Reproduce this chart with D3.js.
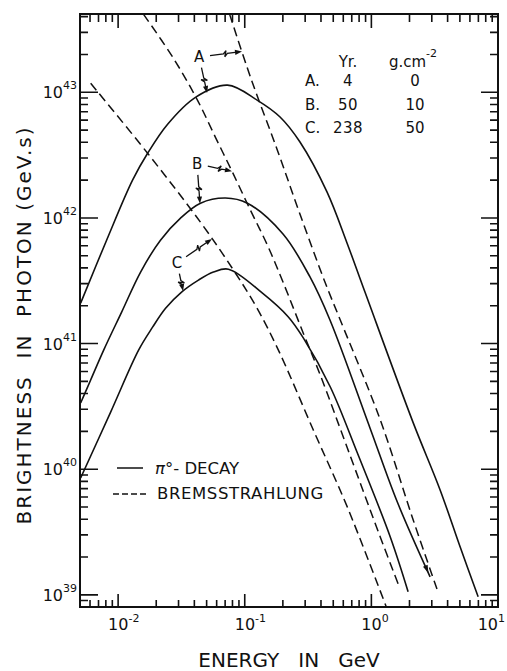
<!DOCTYPE html>
<html>
<head>
<meta charset="utf-8">
<script src="https://cdn.jsdelivr.net/npm/d3@7"></script>
<style>
  body { margin: 0; background: #fff; }
  svg { display: block; font-family: "DejaVu Sans", sans-serif; }
  text { fill: #111; white-space: pre; }
</style>
</head>
<body>
<svg id="chart"></svg>
<script>
// energy (GeV), brightness in photon (GeV.s)
// pi0-decay, solid curves
let piA = [[0.00506, 2.10e41], [0.00811, 6.65e41], [0.0130, 2.00e42], [0.0171, 3.27e42], [0.0246, 5.57e42],
  [0.0408, 9.12e42], [0.0731, 1.14e43], [0.126, 8.63e42], [0.190, 6.36e42], [0.273, 4.02e42], [0.446, 1.61e42],
  [0.642, 6.32e41], [0.890, 2.57e41], [2.13, 2.37e40], [3.49, 6.84e39], [5.02, 2.41e39], [6.97, 9.64e38]]
let piB = [[0.00506, 3.37e40], [0.00607, 5.13e40], [0.00769, 8.87e40], [0.01066, 1.78e41], [0.01505, 3.71e41],
  [0.0216, 6.65e41], [0.0311, 9.96e41], [0.0447, 1.31e42], [0.0704, 1.44e42], [0.105, 1.31e42],
  [0.2005, 7.45e41], [0.3275, 3.39e41], [0.471, 1.54e41], [0.975, 2.13e40], [1.60, 5.50e39], [2.91, 1.39e39]]
let piC = [[0.00506, 8.51e39], [0.00873, 2.85e40], [0.01451, 8.87e40], [0.01871, 1.35e41], [0.0237, 1.91e41],
  [0.0317, 2.57e41], [0.0431, 3.20e41], [0.0566, 3.71e41], [0.0744, 3.91e41], [0.138, 2.52e41],
  [0.221, 1.63e41], [0.290, 1.11e41], [0.474, 4.51e40], [0.774, 1.35e40], [1.41, 2.89e39], [1.95, 1.06e39]]

// bremsstrahlung, dashed curves
let bremA = [[0.0760, 4.17e43], [0.111, 1.32e43], [0.181, 3.46e42], [0.275, 1.05e42], [0.433, 3.03e41],
  [0.568, 1.54e41], [1.175, 2.47e40], [2.14, 3.94e39], [3.31, 1.10e39]]
let bremB = [[0.01589, 4.17e43], [0.0274, 1.86e43], [0.0424, 8.63e42], [0.0587, 4.38e42], [0.0800, 2.31e42],
  [0.111, 1.15e42], [0.151, 6.07e41], [0.202, 3.03e41], [0.290, 1.21e41], [0.395, 5.61e40],
  [0.645, 1.48e40], [1.175, 2.89e39], [1.66, 1.16e39]]
let bremC = [[0.00607, 1.18e43], [0.0171, 3.27e42], [0.0447, 9.25e41], [0.0814, 3.85e41], [0.1237, 1.95e41],
  [0.1844, 8.87e40], [0.348, 2.05e40], [0.645, 5.01e39], [1.31, 8.04e38]]

let xTickExp = [-2, -1, 0, 1]
let yTickExp = [39, 40, 41, 42, 43]

let tableHead = ['Yr.', 'g.cm']
let tableRows = [['A.', '4', '0'], ['B.', '50', '10'], ['C.', '238', '50']]

// curve labels: where the letter sits and which curve (at what energy) each arrow points to
let curveLabels = [
  {text: 'A', at: [0.0436, 1.91e43], arrows: [[bremA, 0.0951], [piA, 0.0504]]},
  {text: 'B', at: [0.0420, 2.69e42], arrows: [[bremB, 0.0793], [piB, 0.0443]]},
  {text: 'C', at: [0.0292, 4.38e41], arrows: [[bremC, 0.0551], [piC, 0.0326]]}
]

let width = 507
let height = 671
let plotLeft = 80, plotRight = 498, plotTop = 14, plotBottom = 607

let svg = d3.select('#chart').attr('width', width).attr('height', height)

let xScale = d3.scaleLog().domain([0.005, 10]).range([plotLeft, plotRight])
let yScale = d3.scaleLog().domain([8e38, 4.2e43]).range([plotBottom, plotTop])

let isPow10 = (v) => Math.abs(Math.log10(v) - Math.round(Math.log10(v))) < 1e-9
let xMajor = xTickExp.map(e => Math.pow(10, e))
let yMajor = yTickExp.map(e => Math.pow(10, e))
let xMinor = xScale.ticks(20).filter(v => !isPow10(v))
let yMinor = yScale.ticks(20).filter(v => !isPow10(v))

// ---- ticks on all four sides, pointing in; one path per side
let tickPath = (vals, len, horizontal, base, dir) => vals.map(v => {
  let p = horizontal ? xScale(v) : yScale(v)
  return horizontal
    ? `M${p},${base}V${base + dir * len}`
    : `M${base},${p}H${base + dir * len}`
}).join('')

let drawAxes = () => {
  let sides = [
    [true, plotBottom, -1, 13, 7],
    [true, plotTop, 1, 14, 8],
    [false, plotLeft, 1, 18, 8],
    [false, plotRight, -1, 17, 8]
  ]
  svg.append('g')
    .selectAll('path')
    .data(sides)
    .enter()
    .append('path')
    .attr('d', ([h, base, dir, bigLen, smallLen]) =>
      tickPath(h ? xMajor : yMajor, bigLen, h, base, dir) +
      tickPath(h ? xMinor : yMinor, smallLen, h, base, dir))
    .attr('fill', 'none')
    .attr('stroke', '#111')
    .attr('stroke-width', 1.6)

  svg.append('rect')
    .attr('x', plotLeft).attr('y', plotTop)
    .attr('width', plotRight - plotLeft).attr('height', plotBottom - plotTop)
    .attr('fill', 'none').attr('stroke', '#111').attr('stroke-width', 2)

  xTickExp.forEach(e => {
    let t = svg.append('text')
      .attr('x', xScale(Math.pow(10, e)) - 10)
      .attr('y', 630)
      .attr('font-size', 16)
    t.append('tspan').text('10')
    t.append('tspan').attr('dy', -8).attr('font-size', 11).text(e)
    let bb = t.node().getBBox()
    if (bb.x + bb.width > width - 2) t.attr('x', +t.attr('x') - (bb.x + bb.width - width + 2))
  })

  yTickExp.forEach(e => {
    let yy = yScale(Math.pow(10, e))
    svg.append('text').attr('x', 63).attr('y', yy + 6)
      .attr('text-anchor', 'end').attr('font-size', 16).text('10')
    svg.append('text').attr('x', 63).attr('y', yy - 3)
      .attr('font-size', 11).text(e)
  })

  svg.append('text')
    .attr('x', (plotLeft + plotRight) / 2).attr('y', 667)
    .attr('text-anchor', 'middle')
    .attr('font-size', 20)
    .text('ENERGY   IN   GeV')

  svg.append('text')
    .attr('transform', 'translate(31,325) rotate(-90)')
    .attr('text-anchor', 'middle')
    .attr('font-size', 20)
    .attr('letter-spacing', 2)
    .text('BRIGHTNESS  IN  PHOTON (GeV.s)')
}

// ---- curves
let lineGen = d3.line()
  .x(d => xScale(d[0]))
  .y(d => yScale(d[1]))
  .curve(d3.curveCatmullRom.alpha(0.5))

let drawCurves = () => {
  svg.append('clipPath').attr('id', 'plot-clip')
    .append('rect')
    .attr('x', plotLeft).attr('y', plotTop)
    .attr('width', plotRight - plotLeft).attr('height', plotBottom - plotTop)

  let g = svg.append('g').attr('clip-path', 'url(#plot-clip)')

  g.selectAll('.pi')
    .data([piA, piB, piC])
    .enter()
    .append('path')
    .attr('class', 'pi')
    .attr('d', lineGen)
    .attr('fill', 'none')
    .attr('stroke', '#111')
    .attr('stroke-width', 1.6)

  g.selectAll('.brem')
    .data([bremA, bremB, bremC])
    .enter()
    .append('path')
    .attr('class', 'brem')
    .attr('d', lineGen)
    .attr('fill', 'none')
    .attr('stroke', '#111')
    .attr('stroke-width', 1.5)
    .attr('stroke-dasharray', '9,5')
}

// point on a curve at a given energy (linear in log-log between read points)
let pointOn = (series, energy) => {
  let lx = Math.log10(energy)
  for (let i = 1; i < series.length; i++) {
    let a = Math.log10(series[i - 1][0]), b = Math.log10(series[i][0])
    if (lx >= a && lx <= b) {
      let t = (lx - a) / (b - a)
      let v = Math.log10(series[i - 1][1]) * (1 - t) + Math.log10(series[i][1]) * t
      return [xScale(energy), yScale(Math.pow(10, v))]
    }
  }
  return [xScale(energy), yScale(series[0][1])]
}

let arrowHead = (p) => {
  svg.append('path')
    .attr('d', d3.line()(p) + 'Z')
    .attr('fill', '#111')
}

// lettering-style arrow: shaft with a little zig-zag, filled head
let drawArrow = (x0, y0, x1, y1) => {
  let dx = x1 - x0, dy = y1 - y0
  let len = Math.hypot(dx, dy)
  let ux = dx / len, uy = dy / len
  let nx = -uy, ny = ux
  let p = (t, s) => [x0 + ux * t + nx * s, y0 + uy * t + ny * s]
  let m = len * 0.45
  let pts = [p(0, 0), p(m - 1, 0), p(m + 2, -3), p(m, 3), p(m + 3, 0), p(len - 5, 0)]
  svg.append('path')
    .attr('d', d3.line()(pts))
    .attr('fill', 'none').attr('stroke', '#111').attr('stroke-width', 1.3)
  arrowHead([p(len, 0), p(len - 7, 2.6), p(len - 7, -2.6)])
}

let drawLabels = () => {
  curveLabels.forEach(lab => {
    let cx = xScale(lab.at[0]), cy = yScale(lab.at[1])
    svg.append('text')
      .attr('x', cx).attr('y', cy + 5.5)
      .attr('text-anchor', 'middle')
      .attr('font-size', 15)
      .text(lab.text)
    lab.arrows.forEach(([series, energy]) => {
      let [tx, ty] = pointOn(series, energy)
      let d = Math.hypot(tx - cx, ty - cy)
      let sx = cx + (tx - cx) / d * 11, sy = cy + (ty - cy) / d * 11
      drawArrow(sx, sy, tx, ty)
    })
  })

  // small head drawn on the tail end of the B pi0 curve in the original
  let n = piB.length
  let [ex, ey] = [xScale(piB[n - 1][0]), yScale(piB[n - 1][1])]
  let [bx, by] = [xScale(piB[n - 2][0]), yScale(piB[n - 2][1])]
  let l = Math.hypot(ex - bx, ey - by), ux = (ex - bx) / l, uy = (ey - by) / l
  let tipX = ex - ux * 4, tipY = ey - uy * 4
  arrowHead([[tipX, tipY], [tipX - ux * 8 - uy * 2.5, tipY - uy * 8 + ux * 2.5], [tipX - ux * 8 + uy * 2.5, tipY - uy * 8 - ux * 2.5]])
}

let drawTable = () => {
  let colYr = 348, colG = 415, colName = 305
  svg.append('text').attr('x', colYr).attr('y', 67).attr('text-anchor', 'middle')
    .attr('font-size', 15).text(tableHead[0])
  let t = svg.append('text').attr('x', colG - 2).attr('y', 67).attr('text-anchor', 'middle')
    .attr('font-size', 15)
  t.append('tspan').text(tableHead[1])
  t.append('tspan').attr('dy', -10).attr('font-size', 11).text('-2')

  tableRows.forEach((row, i) => {
    let yy = 86 + i * 23.5
    svg.append('text').attr('x', colName).attr('y', yy).attr('font-size', 15).text(row[0])
    svg.append('text').attr('x', colYr).attr('y', yy).attr('text-anchor', 'middle')
      .attr('font-size', 15).attr('letter-spacing', 0.5).text(row[1])
    svg.append('text').attr('x', colG).attr('y', yy).attr('text-anchor', 'middle')
      .attr('font-size', 15).text(row[2])
  })
}

let drawLegend = () => {
  svg.append('line')
    .attr('x1', 117).attr('x2', 143).attr('y1', 468).attr('y2', 468)
    .attr('stroke', '#111').attr('stroke-width', 1.5)
  let t = svg.append('text').attr('x', 155).attr('y', 474).attr('font-size', 16.5)
  t.append('tspan').attr('font-style', 'italic').text('π')
  t.append('tspan').text('°- DECAY')

  svg.append('line')
    .attr('x1', 113).attr('x2', 148).attr('y1', 494).attr('y2', 494)
    .attr('stroke', '#111').attr('stroke-width', 1.5)
    .attr('stroke-dasharray', '6,3')
  svg.append('text').attr('x', 157).attr('y', 499)
    .attr('font-size', 16.5).attr('letter-spacing', 0.6)
    .text('BREMSSTRAHLUNG')
}

drawAxes()
drawCurves()
drawLabels()
drawTable()
drawLegend()
</script>
</body>
</html>
